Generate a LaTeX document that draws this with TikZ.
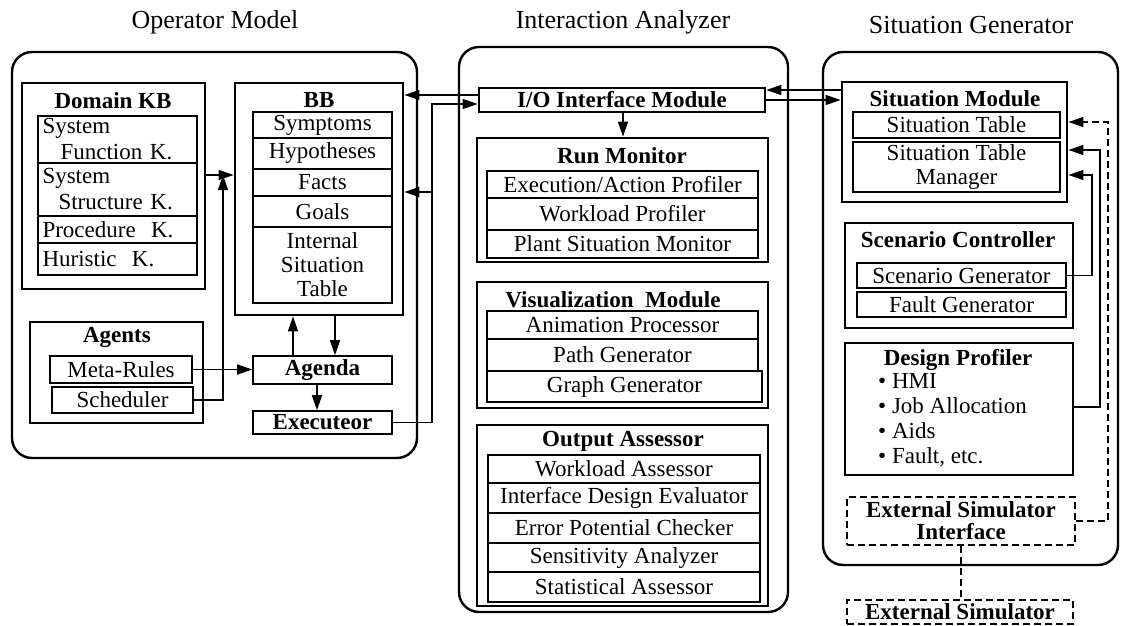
\documentclass[tikz,border=0pt]{standalone}
\usepackage{fontspec}
\setmainfont{Liberation Serif}
\usetikzlibrary{arrows.meta,calc}
\newcommand\bx[7][]{\node[#1, minimum width={#5-#3}, minimum height={#6-#4}] (#2) at ({(#3+#5)/2},{(#4+#6)/2}) {#7};}
\tikzset{
  every node/.style={font=\fontsize{23}{24}\selectfont, inner sep=1pt},
  outer/.style={draw, line width=2.4pt, rounded corners=20pt},
  cont/.style={draw, line width=2.8pt},
  item/.style={draw, line width=1.6pt, align=center},
  lft/.style={item, align=left, text width=150pt, font=\fontsize{23}{26}\selectfont},
  dbox/.style={draw, line width=1.9pt, dash pattern=on 7pt off 4pt, align=center, font=\fontsize{23}{22}\selectfont\bfseries},
  ttl/.style={font=\fontsize{23}{24}\selectfont\bfseries},
  head/.style={font=\fontsize{26}{28}\selectfont},
  conn/.style={line width=1.6pt},
  arr/.style={conn, -{Triangle[length=15pt,width=10pt]}},
  darr/.style={arr, dash pattern=on 7pt off 4pt},
}
\begin{document}
\begin{tikzpicture}[x=1pt,y=-1pt]
\useasboundingbox (0,0) rectangle (1122,626);
% headers
\node[head] (h1) at (215,22) {Operator Model};
\node[head] (h2) at (623,22) {Interaction Analyzer};
\node[head] (h3) at (971,25) {Situation Generator};
% ---------- Operator Model ----------
\bx[outer]{om}{12}{52}{417}{458}{}
\bx[cont]{dkb}{22}{83}{205}{289}{}
\node[ttl] (dkbt) at (113,101) {Domain KB};
\bx[lft]{sfk}{38}{116}{197}{163}{System\\\hspace*{18pt}Function K.}
\bx[lft]{ssk}{38}{163}{197}{216}{System\\\hspace*{16pt}Structure K.}
\bx[lft]{pk}{38}{216}{197}{243}{Procedure~ K.}
\bx[lft]{hk}{38}{243}{197}{275}{Huristic~ K.}
\bx[cont]{bb}{235}{83}{403}{315}{}
\node[ttl] (bbt) at (319,100) {BB};
\bx[item]{sym}{253}{112}{392}{138}{Symptoms}
\bx[item]{hyp}{253}{138}{392}{169}{Hypotheses}
\bx[item]{fac}{253}{169}{392}{196}{Facts}
\bx[item]{goa}{253}{196}{392}{227}{Goals}
\bx[item]{ist}{253}{227}{392}{303}{Internal\\Situation\\Table}
\bx[cont]{agt}{30}{322}{203}{423}{}
\node[ttl] (agtt) at (117,337) {Agents};
\bx[item]{mr}{50}{356}{192}{383}{Meta-Rules}
\bx[item]{sch}{52}{387}{193}{413}{Scheduler}
\bx[item,font=\fontsize{23}{24}\selectfont\bfseries]{ag}{253}{356}{392}{384}{Agenda}
\bx[item,font=\fontsize{23}{24}\selectfont\bfseries]{ex}{253}{411}{392}{434}{Executeor}
\coordinate (j1) at (223,175);
\coordinate (xa) at (293,0);
\coordinate (xb) at (335,0);
\coordinate (xc) at (317,0);
\coordinate (j2) at (432,192);
\coordinate (j3) at (432,104);
\coordinate (j4) at (440,95);
\draw[arr] (dkb.east|-j1) -- (bb.west|-j1);
\draw[arr] (sch.east) -- (sch.east-|j1) -- (j1);
\draw[arr] (mr.east) -- (mr.east-|ag.west);
\draw[arr] (ag.north-|xa) -- (bb.south-|xa);
\draw[arr] (bb.south-|xb) -- (ag.north-|xb);
\draw[arr] (ag.south-|xc) -- (ex.north-|xc);
% ---------- Interaction Analyzer ----------
\bx[outer]{ia}{459}{47}{788}{612}{}
\bx[cont,font=\fontsize{23}{24}\selectfont\bfseries]{io}{479}{88}{765}{112}{I/O Interface Module}
\draw[arr] (ex.east) -- (ex.east-|j2) -- (j3) -- (j3-|io.west);
\draw[arr] (j2) -- (j2-|bb.east);
\draw[arr] (j4-|io.west) -- (j4-|bb.east);
\bx[cont]{rm}{477}{138}{768}{262}{}
\node[ttl] (rmt) at (622,156) {Run Monitor};
\bx[item]{eap}{487}{171}{758}{198}{Execution/Action Profiler}
\bx[item]{wp}{487}{198}{758}{230}{Workload Profiler}
\bx[item]{psm}{487}{230}{758}{258}{Plant Situation Monitor}
\coordinate (xd) at (623,0);
\draw[arr] (io.south-|xd) -- (rm.north-|xd);
\bx[cont]{vm}{477}{282}{768}{408}{}
\node[ttl] (vmt) at (613,300) {Visualization~ Module};
\bx[item]{anp}{487}{311}{758}{339}{Animation Processor}
\bx[item]{pg}{487}{339}{758}{371}{Path Generator}
\bx[item]{gg}{487}{371}{762}{402}{Graph Generator}
\bx[cont]{oa}{477}{425}{768}{606}{}
\node[ttl] (oat) at (623,441) {Output Assessor};
\bx[item]{wa}{488}{455}{760}{483}{Workload Assessor}
\bx[item]{ide}{488}{483}{760}{513}{Interface Design Evaluator}
\bx[item]{epc}{488}{513}{760}{543}{Error Potential Checker}
\bx[item]{sa}{488}{543}{760}{572}{Sensitivity Analyzer}
\bx[item]{sta}{488}{572}{760}{602}{Statistical Assessor}
% ---------- Situation Generator ----------
\bx[outer]{sg}{823}{52}{1118}{565}{}
\bx[cont]{sm}{842}{82}{1067}{202}{}
\node[ttl] (smt) at (955,99) {Situation Module};
\bx[item]{st}{853}{112}{1060}{138}{Situation Table}
\bx[item]{stm}{853}{142}{1060}{192}{Situation Table\\Manager}
\coordinate (y90) at (800,90);
\coordinate (y100) at (800,100);
\draw[arr] (y90-|sm.west) -- (y90-|io.east);
\draw[arr] (y100-|io.east) -- (y100-|sm.west);
\bx[cont]{sc}{845}{223}{1073}{328}{}
\node[ttl] (sct) at (958,240) {Scenario Controller};
\bx[item]{sgn}{857}{263}{1066}{288}{Scenario Generator}
\bx[item]{fg}{857}{292}{1066}{317}{Fault Generator}
\bx[cont]{dp}{845}{343}{1073}{475}{}
\node[ttl] (dpt) at (958,360) {Design Profiler};
\node[anchor=north west, align=left, font=\fontsize{23}{25}\selectfont] (dpl) at (877,372)
  {\textbullet\ HMI\\\textbullet\ Job Allocation\\\textbullet\ Aids\\\textbullet\ Fault, etc.};
\bx[dbox]{esi}{847}{497}{1075}{545}{External Simulator\\Interface}
\bx[dbox]{es}{847}{600}{1073}{624}{External Simulator}
\coordinate (k1) at (1092,175);
\coordinate (k2) at (1100,150);
\coordinate (k3) at (1108,122);
\coordinate (k4) at (1100,407);
\draw[arr] (sgn.east) -- (sgn.east-|k1) -- (k1) -- (k1-|sm.east);
\draw[arr] (k4-|dp.east) -- (k4) -- (k2) -- (k2-|sm.east);
\draw[darr] (esi.east) -- (esi.east-|k3) -- (k3) -- (k3-|sm.east);
\draw[conn, dash pattern=on 7pt off 4pt] (esi.south) -- (esi.south|-es.north);
\end{tikzpicture}
\end{document}
